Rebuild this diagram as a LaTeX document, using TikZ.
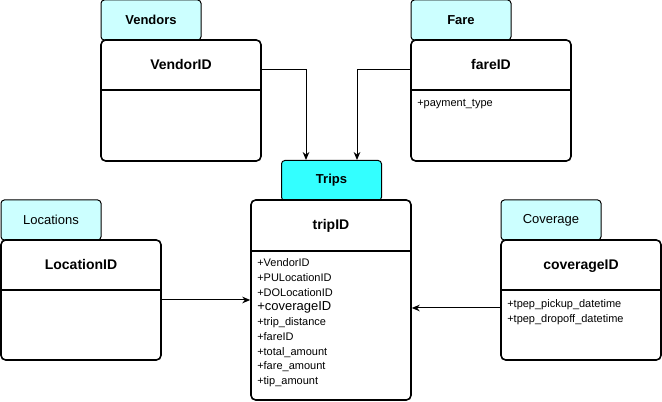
\documentclass[tikz,border=0pt]{standalone}
\usepackage{fontspec}
\setmainfont{Liberation Sans}
\usetikzlibrary{arrows.meta}
\definecolor{tabcyan}{HTML}{CCFFFF}
\definecolor{tripcyan}{HTML}{33FFFF}
\tikzset{
  tabbox/.style={draw, line width=0.75pt, rounded corners=2.5pt, fill=tabcyan,
    minimum width=75pt, minimum height=30pt, inner sep=0pt,
    font=\fontsize{9.75}{11}\selectfont},
  entitybox/.style={draw, line width=1.2pt, rounded corners=3.5pt,
    minimum width=120pt, inner sep=0pt},
  keytext/.style={font=\bfseries\fontsize{10.5}{12}\selectfont},
  attrtext/.style={anchor=north west, align=left, inner sep=0pt,
    font=\fontsize{8.25}{11.05}\selectfont},
  link/.style={line width=0.75pt, -{Stealth[length=6pt,width=5pt]}}
}
\begin{document}
\begin{tikzpicture}[x=0.75pt,y=0.75pt,yscale=-1,xscale=1]
  \useasboundingbox (0,0) rectangle (662,402);
  % tabs
  \node[tabbox, font=\bfseries\fontsize{9.75}{11}\selectfont] (vendorstab) at (151,20) {Vendors};
  \node[tabbox, font=\bfseries\fontsize{9.75}{11}\selectfont] (faretab) at (461,20) {Fare};
  \node[tabbox, fill=tripcyan, font=\bfseries\fontsize{9.75}{11}\selectfont] (tripstab) at (331.5,180.5) {Trips};
  \node[tabbox] (locationstab) at (51,220) {Locations};
  \node[tabbox] (coveragetab) at (551,220) {Coverage};
  % boxes
  \node[entitybox, minimum height=90.75pt] (vendorbox) at (181,100.5) {};
  \node[entitybox, minimum height=90.75pt] (farebox) at (491,100.5) {};
  \node[entitybox, minimum height=150pt] (tripsbox) at (331,300) {};
  \node[entitybox, minimum height=90pt] (locationbox) at (81,300) {};
  \node[entitybox, minimum height=90pt] (coveragebox) at (581,300) {};
  % dividers
  \draw[line width=1.2pt] (vendorbox.west |- 0,90) -- (vendorbox.east |- 0,90);
  \draw[line width=1.2pt] (farebox.west |- 0,90) -- (farebox.east |- 0,90);
  \draw[line width=1.2pt] (tripsbox.west |- 0,251) -- (tripsbox.east |- 0,251);
  \draw[line width=1.2pt] (locationbox.west |- 0,290) -- (locationbox.east |- 0,290);
  \draw[line width=1.2pt] (coveragebox.west |- 0,290) -- (coveragebox.east |- 0,290);
  % key names
  \node[keytext] (vendorid) at (181,65) {VendorID};
  \node[keytext] (fareid) at (491,65) {fareID};
  \node[keytext] (tripid) at (331,226) {tripID};
  \node[keytext] (locationid) at (81,265) {LocationID};
  \node[keytext] (coverageid) at (581,266) {coverageID};
  % attributes
  \node[attrtext] (fareattr) at (417,99.5) {+payment\_type};
  \node[attrtext] (tripattr) at (257,258.5) {+VendorID\\+PULocationID\\+DOLocationID\\{\fontsize{9.75}{11.05}\selectfont +coverageID}\\+trip\_distance\\+fareID\\+total\_amount\\+fare\_amount\\+tip\_amount};
  \node[attrtext] (coverageattr) at (507,299.5) {+tpep\_pickup\_datetime\\+tpep\_dropoff\_datetime};
  % links
  \draw[link] (vendorbox.east |- 0,70) -| (tripstab.north -| 306,0);
  \draw[link] (farebox.west |- 0,70) -| (tripstab.north -| 357,0);
  \draw[link] (locationbox.east |- 0,300) -- (tripsbox.west |- 0,300);
  \draw[link] (coveragebox.west |- 0,308) -- (tripsbox.east |- 0,308);
\end{tikzpicture}
\end{document}
